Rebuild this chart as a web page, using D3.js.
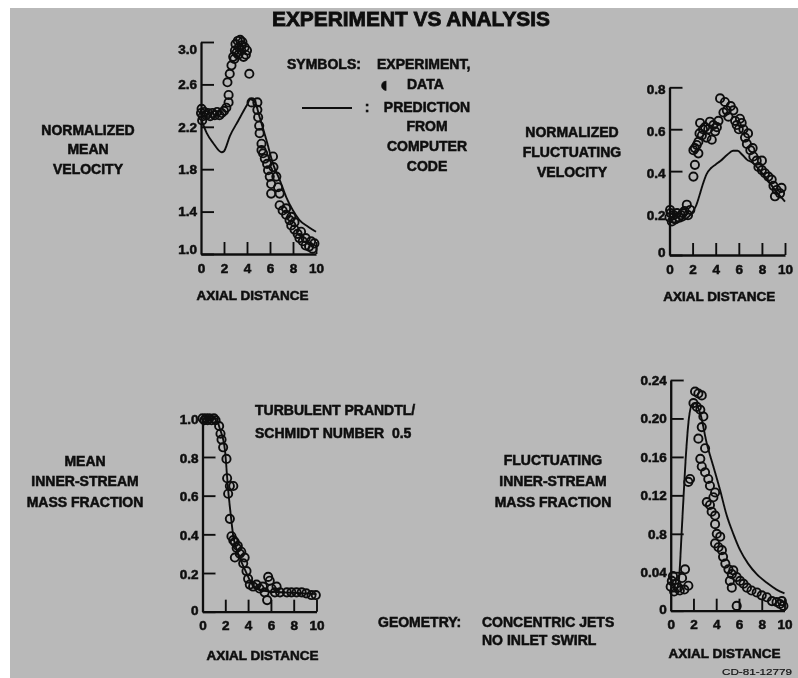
<!DOCTYPE html>
<html><head><meta charset="utf-8">
<script src="https://cdn.jsdelivr.net/npm/d3@7"></script>
<style>
html,body{margin:0;padding:0;background:#fff;}
svg{display:block;}
text{font-family:"Liberation Sans",Arial,Helvetica,sans-serif;font-weight:bold;fill:#111;stroke:#111;stroke-width:0.55px;}
</style></head><body>
<svg id="chart" width="798" height="678"></svg>
<script>
// ---------- DATA ----------
const xTicks = [0, 2, 4, 6, 8, 10];

const meanVelTicks = [1.0, 1.4, 1.8, 2.2, 2.6, 3.0];
const meanVelTickLabels = ["1.0", "1.4", "1.8", "2.2", "2.6", "3.0"];
const meanVelExp = [
  [0,2.33],[0.15,2.30],[0.3,2.34],[0.45,2.31],[0.6,2.33],[0.8,2.30],[1.0,2.33],[1.2,2.31],[1.4,2.34],
  [1.6,2.31],[1.8,2.33],[2.0,2.35],[0.1,2.26],[0.05,2.37],[2.2,2.38],
  [2.4,2.43],[2.4,2.50],[2.3,2.62],[2.5,2.70],[2.65,2.78],[2.8,2.86],[2.95,2.92],[3.0,2.98],[3.2,3.01],
  [3.4,3.02],[3.6,3.0],[3.3,2.95],[3.5,2.92],[3.8,2.95],[3.9,2.88],[4.0,2.92],[3.7,2.86],[3.1,2.90],
  [2.9,2.84],[3.55,2.97],[3.25,2.88],[4.2,2.70],
  [4.4,2.43],[4.9,2.43],[4.9,2.36],[4.97,2.29],[5.06,2.21],[5.1,2.14],[5.26,2.04],[5.26,1.98],[5.4,1.95],
  [5.55,1.90],[5.75,1.85],[5.83,1.79],[5.98,1.73],[6.1,1.66],[6.26,1.92],[6.3,1.82],[6.55,1.73],[6.7,1.63],
  [6.84,1.57],[6.1,1.57],[6.84,1.46],[7.1,1.41],[7.4,1.37],[7.7,1.32],[7.85,1.27],[8.13,1.23],[8.4,1.19],
  [8.56,1.15],[8.85,1.12],[9.1,1.08],[9.4,1.07],[9.7,1.05],[9.86,1.10],[8.13,1.30],[7.85,1.35],[7.4,1.43],
  [8.7,1.21],[9.1,1.15],[9.57,1.12]
];
const meanVelPred = [
  [0,2.28],[0.5,2.14],[1.1,2.04],[1.8,1.96],[2.0,1.97],[2.5,2.11],[3.25,2.26],[3.97,2.40],[4.3,2.46],
  [4.7,2.43],[5.1,2.29],[5.7,2.07],[6.26,1.85],[6.84,1.70],[7.4,1.54],[8.0,1.41],[8.56,1.32],[9.28,1.26],[10,1.21]
];

const flucVelTicks = [0, 0.2, 0.4, 0.6, 0.8];
const flucVelTickLabels = ["0", "0.2", "0.4", "0.6", "0.8"];
const flucVelExp = [
  [0,0.18],[0.1,0.2],[0.2,0.16],[0.35,0.19],[0.5,0.17],[0.65,0.2],[0.8,0.18],[1.0,0.19],[1.15,0.2],
  [1.3,0.21],[1.5,0.24],[1.8,0.215],[0.05,0.215],[1.6,0.19],
  [2.07,0.374],[2.2,0.43],[2.5,0.485],[2.2,0.51],[2.36,0.525],[2.07,0.5],[2.5,0.54],[2.65,0.63],[2.8,0.57],
  [3.08,0.61],[3.2,0.56],[3.5,0.636],[3.66,0.55],[3.95,0.59],[4.1,0.61],[4.24,0.64],[2.9,0.6],[3.35,0.6],
  [3.8,0.62],[2.6,0.58],[4.38,0.747],[4.8,0.73],[4.96,0.69],[4.67,0.68],[5.1,0.66],[5.53,0.69],[5.68,0.64],
  [5.82,0.62],[6.0,0.6],[6.25,0.63],[6.4,0.6],[6.54,0.56],[6.7,0.53],[7.0,0.5],[7.26,0.47],[7.55,0.45],
  [8.0,0.45],[7.7,0.42],[8.0,0.405],[8.27,0.39],[8.56,0.374],[8.85,0.36],[9.0,0.33],[9.28,0.31],
  [9.57,0.294],[9.7,0.32],[9.13,0.28],[5.3,0.71],[6.1,0.65],[7.2,0.51],[6.8,0.58]
];
const flucVelPred = [
  [0,0.16],[0.5,0.155],[1.0,0.16],[1.5,0.175],[2.0,0.205],[2.3,0.235],[2.6,0.285],[2.9,0.34],[3.2,0.385],
  [3.6,0.415],[4.0,0.432],[4.4,0.448],[5.0,0.478],[5.5,0.497],[5.9,0.497],[6.3,0.478],[6.7,0.455],
  [7.2,0.44],[7.6,0.418],[8.1,0.385],[8.6,0.35],[9.2,0.305],[9.6,0.28],[10,0.255]
];

const meanMassTicks = [0, 0.2, 0.4, 0.6, 0.8, 1.0];
const meanMassTickLabels = ["0", "0.2", "0.4", "0.6", "0.8", "1.0"];
const meanMassExp = [
  [0,1.0],[0.15,0.99],[0.3,1.0],[0.45,0.99],[0.6,1.0],[0.8,0.99],[1.0,1.0],[1.15,0.99],
  [1.46,0.96],[1.58,0.92],[1.67,0.89],[1.81,0.85],[2.1,0.79],[2.16,0.69],[2.4,0.65],[2.7,0.65],[2.25,0.61],
  [2.4,0.48],[2.54,0.39],[2.7,0.37],[2.84,0.36],[3.0,0.33],[3.1,0.34],[3.27,0.30],[2.84,0.28],[3.4,0.31],
  [3.57,0.25],[3.7,0.28],[3.86,0.21],[4.0,0.17],[4.15,0.14],[4.44,0.13],[4.74,0.14],[5.0,0.12],[5.3,0.13],
  [5.76,0.18],[5.9,0.16],[5.67,0.06],[6.05,0.12],[6.35,0.10],[6.8,0.10],[7.4,0.10],[7.8,0.10],[8.25,0.10],
  [8.7,0.10],[9.1,0.095],[9.56,0.086],[9.94,0.086],[6.5,0.13],[5.45,0.10]
];
const meanMassPred = [
  [0,1.0],[1.2,1.0],[1.5,0.95],[1.96,0.84],[2.25,0.63],[2.46,0.51],[2.7,0.39],[3.13,0.30],[3.7,0.22],
  [4.3,0.147],[5.0,0.112],[6.2,0.103],[7.95,0.098],[10,0.091]
];

const flucMassTicks = [0, 0.04, 0.08, 0.12, 0.16, 0.20, 0.24];
const flucMassTickLabels = ["0", "0.04", "0.8", "0.12", "0.16", "0.20", "0.24"];
const flucMassExp = [
  [0,0.025],[0.1,0.031],[0.3,0.02],[0.5,0.028],[0.8,0.021],[1.0,0.034],[1.26,0.043],[1.55,0.026],
  [0.2,0.036],[0.65,0.024],[1.2,0.022],[1.55,0.134],[1.7,0.137],
  [2.0,0.216],[2.14,0.228],[2.43,0.226],[2.73,0.224],[2.3,0.212],[2.6,0.209],[2.87,0.202],[2.73,0.191],
  [2.43,0.179],[3.02,0.169],[2.6,0.158],[2.73,0.15],[3.02,0.144],[3.3,0.137],[3.45,0.13],[3.17,0.113],
  [3.45,0.11],[3.75,0.118],[3.6,0.103],[3.9,0.099],[3.9,0.09],[4.05,0.08],[3.9,0.07],[4.2,0.066],
  [4.5,0.063],[4.6,0.056],[4.8,0.049],[5.07,0.043],[5.37,0.038],[5.5,0.042],[5.2,0.031],[5.37,0.024],
  [5.8,0.035],[5.8,0.005],[6.1,0.031],[6.4,0.028],[6.7,0.024],[7.1,0.021],[7.56,0.019],[8.0,0.016],
  [8.45,0.014],[8.9,0.01],[9.3,0.009],[9.6,0.007],[9.9,0.005],[9.77,0.01],[4.35,0.077],[3.9,0.123]
];
const flucMassPred = [
  [0,0.02],[0.4,0.02],[0.7,0.03],[1.0,0.09],[1.3,0.155],[1.6,0.2],[1.85,0.214],[2.1,0.216],[2.6,0.205],
  [3.17,0.174],[3.75,0.15],[4.35,0.125],[4.9,0.1],[5.5,0.08],[6.1,0.063],[6.8,0.049],[7.56,0.038],
  [8.45,0.029],[9.3,0.022],[10,0.018]
];

// ---------- DRAW ----------
const INK = "#111111";
const svg = d3.select("#chart");
const defs = svg.append("defs");
defs.append("filter").attr("id","soft").append("feGaussianBlur").attr("stdDeviation",0.55);

svg.append("rect").attr("width",798).attr("height",678).attr("fill","#ffffff");
svg.append("rect").attr("x",10).attr("y",8).attr("width",788).attr("height",670).attr("fill","#b9b9b9");

const root = svg.append("g").attr("filter","url(#soft)");

function drawPanel(cfg) {
  const x = d3.scaleLinear().domain([0,10]).range([cfg.x0, cfg.x1]);
  const y = d3.scaleLinear().domain(cfg.yDomain).range([cfg.yBottom, cfg.yTop]);
  const g = root.append("g");

  const xa = g.append("g").attr("transform",`translate(0,${cfg.yBottom})`)
    .call(d3.axisBottom(x).tickValues(xTicks).tickSizeInner(-12).tickSizeOuter(0)
      .tickPadding(9).tickFormat(d3.format("d")));
  const ya = g.append("g").attr("transform",`translate(${cfg.x0},0)`)
    .call(d3.axisLeft(y).tickValues(cfg.ticks).tickSizeInner(-13).tickSizeOuter(0)
      .tickPadding(4).tickFormat((d,i)=>cfg.labels[i]));

  [xa, ya].forEach(a => {
    a.select(".domain").attr("stroke",INK).attr("stroke-width",2.3);
    a.selectAll(".tick line").attr("stroke",INK).attr("stroke-width",1.9);
    a.selectAll(".tick text").attr("fill",INK).style("font-size","13.5px")
      .style("font-family","'Liberation Sans',Arial,sans-serif").style("font-weight","bold");
  });
  xa.selectAll(".tick").filter(d => d === 0).select("line").remove();
  if (cfg.nudge) {
    ya.selectAll(".tick text").attr("transform", d => `translate(0,${cfg.nudge(d)})`);
  }

  const line = d3.line().x(d=>x(d[0])).y(d=>y(d[1])).curve(d3.curveMonotoneX);
  g.append("path").datum(cfg.pred).attr("d",line)
    .attr("fill","none").attr("stroke",INK).attr("stroke-width",1.9);

  g.append("g").selectAll("circle").data(cfg.exp).join("circle")
    .attr("cx",d=>x(d[0])).attr("cy",d=>y(d[1])).attr("r",4.1)
    .attr("fill","none").attr("stroke",INK).attr("stroke-width",1.9);

  g.append("text").attr("x",(cfg.x0+cfg.x1)/2+cfg.xlabDx).attr("y",cfg.xlabY)
    .attr("text-anchor","middle").style("font-size","13.5px").text("AXIAL DISTANCE");
}

drawPanel({x0:201, x1:316, yBottom:254, yTop:42, yDomain:[1.0,3.0],
  ticks:meanVelTicks, labels:meanVelTickLabels, exp:meanVelExp, pred:meanVelPred,
  xlabY:300, xlabDx:-6, nudge: d => d===3.0 ? 7 : (d===1.0 ? -5 : 0)});
drawPanel({x0:669.5, x1:785, yBottom:255, yTop:87.3, yDomain:[0,0.8],
  ticks:flucVelTicks, labels:flucVelTickLabels, exp:flucVelExp, pred:flucVelPred,
  xlabY:301, xlabDx:-8, nudge: d => d===0 ? -3 : 2});
drawPanel({x0:202.5, x1:316.5, yBottom:611.7, yTop:418.3, yDomain:[0,1.0],
  ticks:meanMassTicks, labels:meanMassTickLabels, exp:meanMassExp, pred:meanMassPred,
  xlabY:660, xlabDx:3, nudge: d => d===0 ? -2 : 1});
drawPanel({x0:670.7, x1:784.5, yBottom:610.7, yTop:380, yDomain:[0,0.24],
  ticks:flucMassTicks, labels:flucMassTickLabels, exp:flucMassExp, pred:flucMassPred,
  xlabY:658, xlabDx:-3, nudge: d => d===0 ? -2 : 0});

// ---------- TEXT ----------
root.append("text").attr("x",411).attr("y",26).attr("text-anchor","middle")
  .style("font-size","20px").style("stroke-width","0.8px")
  .attr("textLength",278).attr("lengthAdjust","spacingAndGlyphs")
  .text("EXPERIMENT VS ANALYSIS");

function block(lines, cx, ys, size, anchor) {
  lines.forEach((t,i) => {
    root.append("text").attr("x",cx).attr("y",ys[i]).attr("text-anchor",anchor||"middle")
      .attr("dominant-baseline","middle").style("font-size",(size||14)+"px").text(t);
  });
}
block(["NORMALIZED","MEAN","VELOCITY"], 88, [131,150,170]);
block(["NORMALIZED","FLUCTUATING","VELOCITY"], 572, [133,153,173]);
block(["MEAN","INNER-STREAM","MASS FRACTION"], 85, [462,482,503]);
block(["FLUCTUATING","INNER-STREAM","MASS FRACTION"], 553, [461,482,503]);

// legend
block(["SYMBOLS:"], 287, [65], 14, "start");
block(["EXPERIMENT,"], 377, [65], 14, "start");
root.append("text").attr("x",381).attr("y",85).attr("dominant-baseline","middle")
  .style("font-family","'DejaVu Sans',sans-serif").style("font-size","12px").text("◖");
block(["DATA"], 407, [85], 14, "start");
root.append("line").attr("x1",302).attr("x2",352).attr("y1",108).attr("y2",108)
  .attr("stroke",INK).attr("stroke-width",2);
block([":"], 367, [108], 14, "middle");
block(["PREDICTION","FROM","COMPUTER","CODE"], 427, [108,127,147,167]);

block(["TURBULENT PRANDTL/","SCHMIDT NUMBER\u00A0 0.5"], 255, [411,434], 14, "start");
block(["GEOMETRY:"], 378, [623], 14, "start");
block(["CONCENTRIC JETS","NO INLET SWIRL"], 482, [623,641], 14, "start");

root.append("text").attr("x",792).attr("y",672).attr("text-anchor","end")
  .attr("dominant-baseline","middle").style("font-size","9.5px").style("font-weight","normal")
  .style("stroke-width","0.2px")
  .attr("textLength",70).attr("lengthAdjust","spacingAndGlyphs").text("CD-81-12779");
</script>
</body></html>
